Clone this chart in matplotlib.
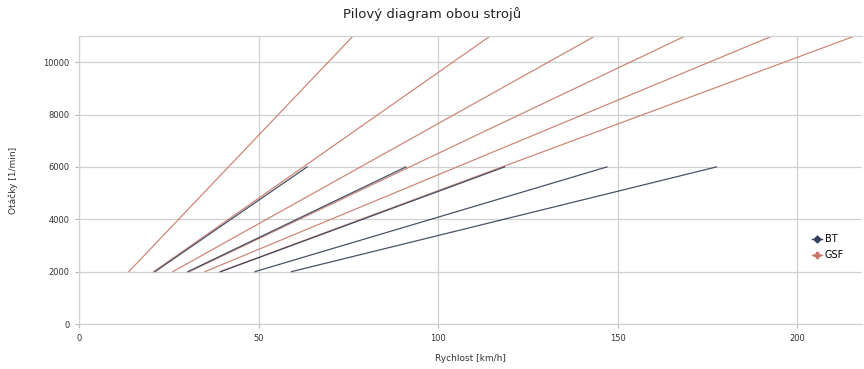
import matplotlib
matplotlib.use("Agg")
import matplotlib.pyplot as plt
from matplotlib.lines import Line2D

# otacky (1/min)
rpm_bt = [2000, 6000]
rpm_gsf = [2000, 11000]

# rychlost pri 6000 1/min pro jednotlive prevody (BT)
bt_speed_6000 = [63.5, 91.0, 118.5, 147.0, 177.5]
# rychlost pri 11000 1/min pro jednotlive prevody (GSF)
gsf_speed_11000 = [76.3, 114.5, 143.7, 168.8, 193.0, 216.0]

x_ticks = [0, 50, 100, 150, 200]
y_ticks = [0, 2000, 4000, 6000, 8000, 10000]

BT_COL = "#34405a"
GSF_COL = "#c87a6a"

fig = plt.figure(figsize=(8.64, 3.69), dpi=100)
ax = fig.add_axes([79 / 864, 1 - 324 / 369, 783 / 864, 288 / 369])

# GSF - kazdy prevod je primka z 2000 do 11000
for v in gsf_speed_11000:
    speeds = [v * r / rpm_gsf[-1] for r in rpm_gsf]
    ax.plot(speeds, rpm_gsf, color=GSF_COL, linewidth=0.9, alpha=0.9, zorder=2)

# BT - kazdy prevod z 2000 do 6000
for v in bt_speed_6000:
    speeds = [v * r / rpm_bt[-1] for r in rpm_bt]
    ax.plot(speeds, rpm_bt, color=BT_COL, linewidth=0.9, alpha=0.9, zorder=3)

ax.set_xlim(0, 218)
ax.set_ylim(0, 11000)
ax.set_xticks(x_ticks)
ax.set_yticks(y_ticks)
ax.tick_params(labelsize=6, length=3, color="#b8b8b8", labelcolor="#333333", pad=4)
ax.grid(True, color="#d0d0d0", linewidth=0.9)
ax.set_axisbelow(True)
for s in ax.spines.values():
    s.set_color("#d0d0d0")
    s.set_linewidth(0.9)
ax.spines["right"].set_visible(False)

ax.set_xlabel("Rychlost [km/h]", fontsize=6.5, color="#333333", labelpad=8)
ax.set_ylabel("Otáčky [1/min]", fontsize=6.5, color="#333333", labelpad=18)
fig.text(0.5, 1 - 14 / 369, "Pilový diagram obou strojů", ha="center", va="center",
         fontsize=9.5, color="#222222")

handles = [
    Line2D([], [], color=BT_COL, marker="D", markersize=3.5, linewidth=1.0),
    Line2D([], [], color=GSF_COL, marker="P", markersize=4, linewidth=1.0),
]
fig.legend(handles, ["BT", "GSF"], loc="center left",
           bbox_to_anchor=(812 / 864, 1 - 247 / 369), frameon=False,
           fontsize=7, handlelength=1.0, handletextpad=0.3, labelspacing=0.6,
           borderaxespad=0, borderpad=0)

fig.savefig("out.png", dpi=100)
